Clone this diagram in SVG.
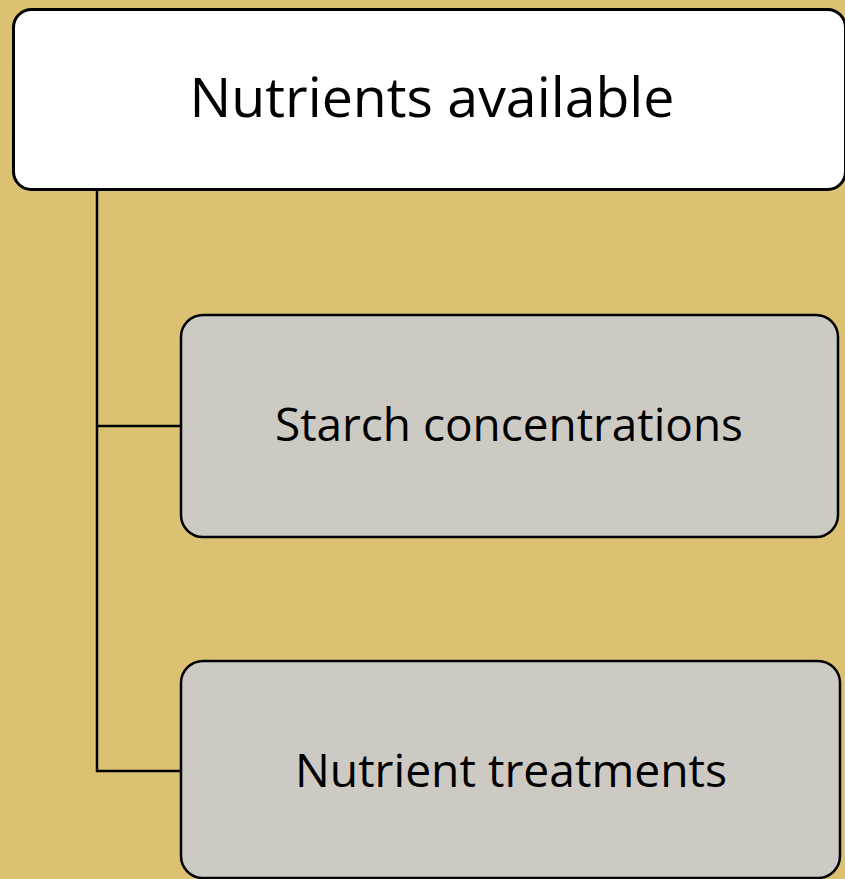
<svg xmlns="http://www.w3.org/2000/svg" width="845" height="879" viewBox="0 0 845 879">
<style>
.t{font-family:"Open Sans","Liberation Sans",sans-serif;fill:#000;text-anchor:middle}
.c{fill:none;stroke:#000;stroke-width:2.5}
</style>
<rect x="0" y="0" width="845" height="879" fill="#DDC173"/>
<g id="connectors">
<polyline class="c" points="97,189 97,771 181,771"/>
<line class="c" x1="97" y1="426" x2="181" y2="426"/>
</g>
<g id="n1">
<rect x="13.5" y="9.5" width="832" height="180" rx="18" fill="#fff" stroke="#000" stroke-width="3"/>
<text class="t" x="432" y="117" font-size="55" textLength="485" lengthAdjust="spacingAndGlyphs">Nutrients available</text>
</g>
<g id="n2">
<rect x="181" y="315" width="657" height="222" rx="22" fill="#CDCAC3" stroke="#000" stroke-width="2.5"/>
<text class="t" x="509" y="441" font-size="45" textLength="468" lengthAdjust="spacingAndGlyphs">Starch concentrations</text>
</g>
<g id="n3">
<rect x="181" y="661" width="659" height="217" rx="22" fill="#CDCAC3" stroke="#000" stroke-width="2.5"/>
<text class="t" x="511" y="787" font-size="45" textLength="432" lengthAdjust="spacingAndGlyphs">Nutrient treatments</text>
</g>
</svg>
